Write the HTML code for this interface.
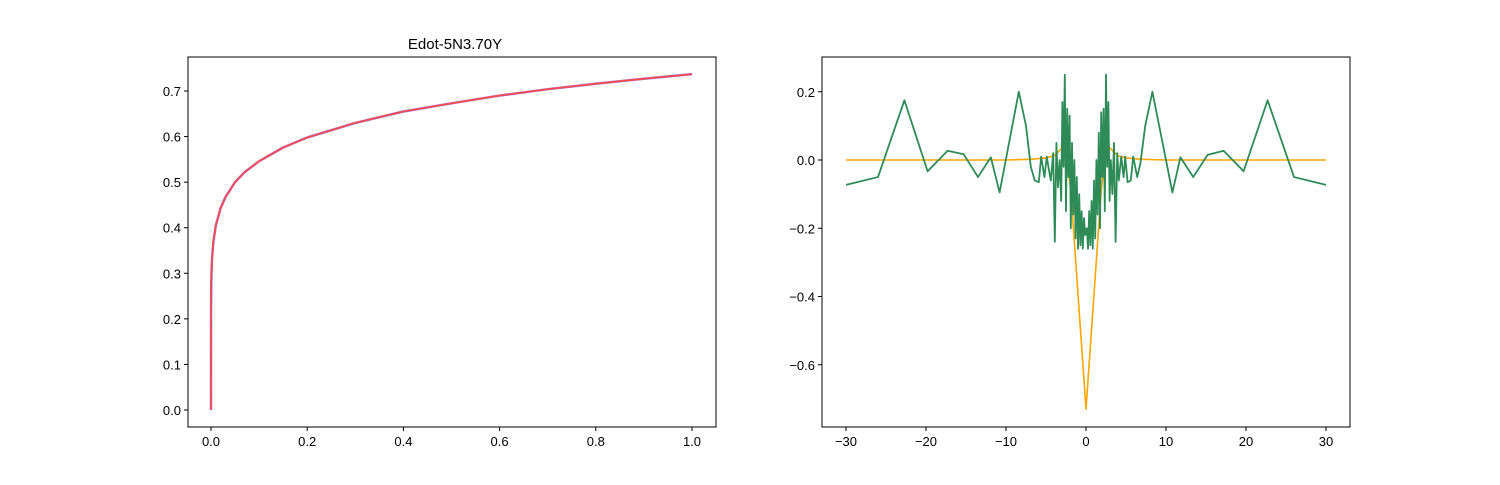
<!DOCTYPE html>
<html><head><meta charset="utf-8"><style>
body{margin:0;background:#fff;}
svg text{font-family:"Liberation Sans","DejaVu Sans",sans-serif;font-size:13px;fill:#000;}
</style></head><body>
<svg id="c" width="1500" height="480" xmlns="http://www.w3.org/2000/svg">
<rect width="1500" height="480" fill="#fff"/>
<text x="455" y="49" text-anchor="middle" style="font-size:15px">Edot-5N3.70Y</text>
<g id="L"></g>
<g id="R"></g>
</svg>
<script>
const leftX=[0,0.0001,0.0005,0.001,0.002,0.005,0.01,0.02,0.03,0.05,0.07,0.1,0.15,0.2,0.3,0.4,0.5,0.6,0.7,0.8,0.9,1.0];
const leftY=[0,0.22,0.274,0.30,0.329,0.370,0.405,0.443,0.467,0.50,0.522,0.546,0.576,0.598,0.630,0.655,0.673,0.690,0.704,0.716,0.727,0.737];
const leftXTicks=[0,0.2,0.4,0.6,0.8,1.0];
const leftXTickLabels=["0.0","0.2","0.4","0.6","0.8","1.0"];
const leftYTicks=[0,0.1,0.2,0.3,0.4,0.5,0.6,0.7];
const leftYTickLabels=["0.0","0.1","0.2","0.3","0.4","0.5","0.6","0.7"];

const greenX=[-30,-26,-22.7,-19.8,-17.3,-15.3,-13.5,-11.9,-10.8,-8.4,-7.5,-6.9,-6.4,-5.9,-5.6,-5.2,-4.9,-4.7,-4.4,-4.1,-3.9,-3.7,-3.5,-3.3,-3.1,-2.95,-2.8,-2.65,-2.5,-2.35,-2.2,-2.05,-1.9,-1.75,-1.6,-1.45,-1.3,-1.15,-1.0,-0.85,-0.7,-0.55,-0.4,-0.25,-0.1,
 0.1,0.25,0.4,0.55,0.7,0.85,1.0,1.15,1.3,1.45,1.6,1.75,1.9,2.05,2.2,2.35,2.5,2.65,2.8,2.95,3.1,3.3,3.5,3.7,3.9,4.1,4.4,4.7,
 4.9,5.2,5.6,5.9,6.4,6.8,7.4,8.3,10.8,11.8,13.4,15.2,17.2,19.7,22.7,26,30];
const greenY=[-0.073,-0.05,0.175,-0.033,0.027,0.017,-0.05,0.008,-0.095,0.2,0.1,-0.02,-0.06,-0.065,0.01,-0.05,0.01,-0.02,-0.06,0.02,-0.24,0.05,-0.08,0.0,-0.12,0.17,-0.02,0.25,-0.15,0.15,-0.05,0.13,-0.2,0.05,-0.16,0.0,-0.23,-0.05,-0.26,-0.1,-0.25,-0.15,-0.26,-0.17,-0.22,
 -0.2,-0.26,-0.15,-0.25,-0.12,-0.26,-0.06,-0.23,0.0,-0.16,0.08,-0.2,0.14,-0.05,0.15,-0.15,0.25,-0.02,0.17,-0.12,0.0,-0.1,0.05,-0.24,0.02,-0.06,0.01,-0.05,
 0.01,-0.065,-0.06,0.01,-0.05,-0.01,0.1,0.2,-0.095,0.008,-0.05,0.015,0.027,-0.033,0.175,-0.05,-0.073];
const orangeX=[-30,-20,-10,-7,-5,-4,-3.2,-2.9,-2.5,-1.9,0,1.9,2.5,2.9,3.2,4,5,7,10,20,30];
const orangeY=[0,0,0,0.002,0.006,0.012,0.03,0.037,0.03,-0.09,-0.73,-0.09,0.03,0.037,0.03,0.012,0.006,0.002,0,0,0];
const rightXTicks=[-30,-20,-10,0,10,20,30];
const rightXTickLabels=["\u221230","\u221220","\u221210","0","10","20","30"];
const rightYTicks=[0.2,0,-0.2,-0.4,-0.6];
const rightYTickLabels=["0.2","0.0","\u22120.2","\u22120.4","\u22120.6"];

const NS="http://www.w3.org/2000/svg";
function mk(p,t,a){const e=document.createElementNS(NS,t);for(const k in a)e.setAttribute(k,a[k]);p.appendChild(e);return e;}

function drawAxes(g,x0,x1,y0,y1,sx,sy,xt,xl,yt,yl,pre){
  mk(g,'rect',{x:x0,y:y0,width:x1-x0,height:y1-y0,fill:'none',stroke:'#000','stroke-width':1});
  xt.forEach((v,i)=>{const px=sx(v);
    const t=mk(g,'line',{x1:px,x2:px,y1:y1,y2:y1+4,stroke:'#000'});
    
    
    const tx=mk(g,'text',{x:px,y:y1+19,'text-anchor':'middle'});tx.textContent=xl[i];
    
    });
  yt.forEach((v,i)=>{const py=sy(v);
    const t=mk(g,'line',{x1:x0-4,x2:x0,y1:py,y2:py,stroke:'#000'});
    
    
    const tx=mk(g,'text',{x:x0-7,y:py+5,'text-anchor':'end'});tx.textContent=yl[i];
    
    });
}
function line(g,xs,ys,sx,sy,col,w,name){
  const p=mk(g,'polyline',{points:xs.map((x,i)=>sx(x)+','+sy(ys[i])).join(' '),fill:'none',stroke:col,'stroke-width':w,'stroke-linejoin':'round'});
  
  
}
// left
const L=document.getElementById('L');
const lsx=v=>211+v*481, lsy=v=>410-v*455.7;
drawAxes(L,188,716,57,427,lsx,lsy,leftXTicks,leftXTickLabels,leftYTicks,leftYTickLabels,'left-');
line(L,leftX,leftY,lsx,lsy,'#9a6fd0',2.5,'purple-series');
line(L,leftX,leftY,lsx,lsy,'#ff4a4a',1.6,'red-series');
// right
const R=document.getElementById('R');
const rsx=v=>1086+v*8, rsy=v=>160-v*341.25;
drawAxes(R,822,1350,57,427,rsx,rsy,rightXTicks,rightXTickLabels,rightYTicks,rightYTickLabels,'right-');
line(R,orangeX,orangeY,rsx,rsy,'#ffa500',1.6,'orange-series');
line(R,greenX,greenY,rsx,rsy,'#2e8b57',1.8,'green-series');
</script>
</body></html>
